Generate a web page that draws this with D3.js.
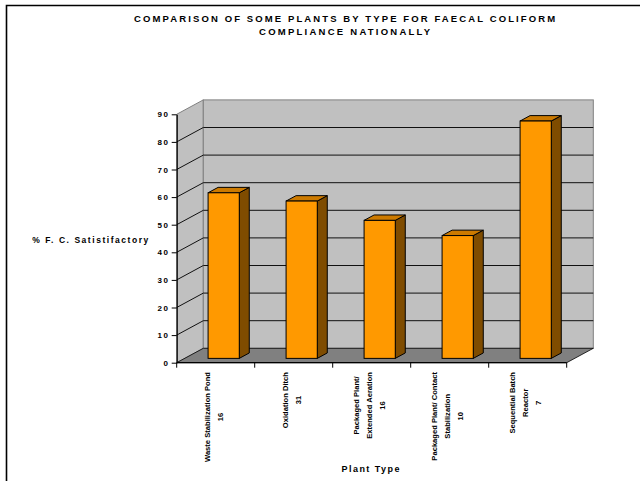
<!DOCTYPE html>
<html>
<head>
<meta charset="UTF-8">
<script src="https://cdnjs.cloudflare.com/ajax/libs/d3/7.8.5/d3.min.js"></script>
<style>
  body { margin: 0; background: #fff; }
  svg text { font-family: "Liberation Sans", Arial, sans-serif; fill: #000; }
</style>
</head>
<body>
<svg id="chart" width="640" height="481"></svg>
<script>
// chart data
var categories = [
  ["Waste Stabilization Pond", "16"],
  ["Oxidation Ditch", "31"],
  ["Packaged Plant/", "Extended Aeration", "16"],
  ["Packaged Plant/ Contact", "Stabilization", "10"],
  ["Sequential Batch", "Reactor", "7"]
];
var values = [60, 57, 50, 44.5, 86];
var yTicks = [0, 10, 20, 30, 40, 50, 60, 70, 80, 90];
var titleLines = ["COMPARISON OF SOME PLANTS BY TYPE FOR FAECAL COLIFORM", "COMPLIANCE NATIONALLY"];

var svg = d3.select("#chart");

// frame (only left + top visible)
svg.append("path").attr("d", "M6.5,481 V5.5 H640")
  .attr("fill", "none").attr("stroke", "#000").attr("stroke-width", 1.6);

var DX = 26.6, DY = -14.4;   // 3d depth offset

var y = d3.scaleLinear().domain([0, 90]).range([362.7, 114.3]);
var x = d3.scaleBand().domain(d3.range(categories.length)).range([176.7, 566.7]);

var g = svg.append("g");

// side wall
g.append("path")
  .attr("d", "M" + [x.range()[0], y(90)] + "L" + [x.range()[0] + DX, y(90) + DY] +
             "L" + [x.range()[0] + DX, y(0) + DY] + "L" + [x.range()[0], y(0)] + "Z")
  .attr("fill", "#c0c0c0").attr("stroke", "#808080");

// back wall
g.append("rect")
  .attr("x", x.range()[0] + DX).attr("y", y(90) + DY)
  .attr("width", x.range()[1] - x.range()[0]).attr("height", y(0) - y(90))
  .attr("fill", "#c0c0c0").attr("stroke", "#808080");

// floor
g.append("path")
  .attr("d", "M" + [x.range()[0], y(0)] + "L" + [x.range()[0] + DX, y(0) + DY] +
             "L" + [x.range()[1] + DX, y(0) + DY] + "L" + [x.range()[1], y(0)] + "Z")
  .attr("fill", "#808080").attr("stroke", "#000").attr("stroke-width", 0.8);

// gridlines (wall + back)
g.append("g").selectAll("path")
  .data(yTicks.filter(function(d){ return d > 0 && d < 90; }))
  .join("path")
  .attr("d", function(d){
    return "M" + [x.range()[0], y(d)] + "L" + [x.range()[0] + DX, y(d) + DY] +
           "H" + (x.range()[1] + DX);
  })
  .attr("fill", "none").attr("stroke", "#111").attr("stroke-width", 1);

// bars
var bw = x.bandwidth() * 0.4;
var f0 = 0.3, bd = 10;   // front depth fraction, bar depth in px
var bars = g.append("g").selectAll("g").data(values).join("g");
bars.each(function(v, i){
  var sel = d3.select(this);
  var x0 = x(i) + (x.bandwidth() - bw) / 2 + f0 * DX;
  var yb = y(0) + f0 * DY, yt = y(v) + f0 * DY;
  var ex = bd, ey = bd * DY / DX;
  sel.append("path")
    .attr("d", "M" + [x0 + bw, yt] + "L" + [x0 + bw + ex, yt + ey] + "L" + [x0 + bw + ex, yb + ey] +
               "L" + [x0 + bw, yb] + "Z")
    .attr("fill", "#7f4c00").attr("stroke", "#000").attr("stroke-linejoin", "round");
  sel.append("path")
    .attr("d", "M" + [x0, yt] + "L" + [x0 + ex, yt + ey] + "L" + [x0 + bw + ex, yt + ey] +
               "L" + [x0 + bw, yt] + "Z")
    .attr("fill", "#cc7a00").attr("stroke", "#000").attr("stroke-linejoin", "round");
  sel.append("rect")
    .attr("x", x0).attr("y", yt).attr("width", bw).attr("height", yb - yt)
    .attr("fill", "#ff9900").attr("stroke", "#000");
});

// y axis
var yAxis = svg.append("g")
  .attr("transform", "translate(" + x.range()[0] + ",0)")
  .call(d3.axisLeft(y).tickValues(yTicks).tickSize(5).tickSizeOuter(0).tickPadding(3));
yAxis.select(".domain").attr("stroke", "#000").attr("stroke-width", 1.2);
yAxis.selectAll(".tick line").attr("stroke", "#000");
yAxis.selectAll("text")
  .style("font-family", "'Liberation Sans', Arial, sans-serif")
  .attr("font-size", 8).attr("font-weight", "bold").attr("letter-spacing", 1.5)
  .attr("fill", "#000").attr("dx", 0.8);

// x axis: baseline + ticks at category boundaries
var xb = x.domain().map(function(d){ return x(d); }).concat([x.range()[1]]);
svg.append("line").attr("x1", x.range()[0]).attr("x2", x.range()[1])
  .attr("y1", y(0)).attr("y2", y(0)).attr("stroke", "#000").attr("stroke-width", 1.2);
svg.append("g").selectAll("line").data(xb).join("line")
  .attr("x1", function(d){ return d; }).attr("x2", function(d){ return d; })
  .attr("y1", y(0)).attr("y2", y(0) + 5).attr("stroke", "#000");

// category labels (rotated, multi-line)
var lab = svg.append("g").selectAll("g").data(categories).join("g");
lab.each(function(lines, i){
  var sel = d3.select(this);
  var n = lines.length;
  var t = sel.selectAll("text").data(lines).join("text")
    .attr("x", 0).attr("y", function(d, j){ return (j - (n - 1) / 2) * 13; })
    .attr("text-anchor", "middle").attr("dominant-baseline", "central")
    .attr("font-size", 7.6).attr("font-weight", "bold")
    .text(function(d){ return d; });
  var maxLen = d3.max(t.nodes(), function(nd){ return nd.getComputedTextLength(); });
  var cx = x(i) + x.bandwidth() / 2 - 2;
  sel.attr("transform", "translate(" + cx + "," + (372 + maxLen / 2) + ") rotate(-90)");
});

// titles
svg.append("g").selectAll("text").data(titleLines).join("text")
  .attr("x", 344.6).attr("y", function(d, i){ return 21.5 + i * 13.2; })
  .attr("text-anchor", "middle").attr("font-size", 9.5).attr("font-weight", "bold")
  .attr("textLength", function(d, i){ return i === 0 ? 421 : 171; })
  .attr("lengthAdjust", "spacing")
  .text(function(d){ return d; });

svg.append("text").attr("x", 90.3).attr("y", 242.7)
  .attr("text-anchor", "middle").attr("font-size", 8.5).attr("font-weight", "bold")
  .attr("textLength", 116).attr("lengthAdjust", "spacing")
  .text("% F. C. Satistifactory");

svg.append("text").attr("x", 370.5).attr("y", 471.7)
  .attr("text-anchor", "middle").attr("font-size", 9).attr("font-weight", "bold")
  .attr("textLength", 58).attr("lengthAdjust", "spacing")
  .text("Plant Type");
</script>
</body>
</html>
